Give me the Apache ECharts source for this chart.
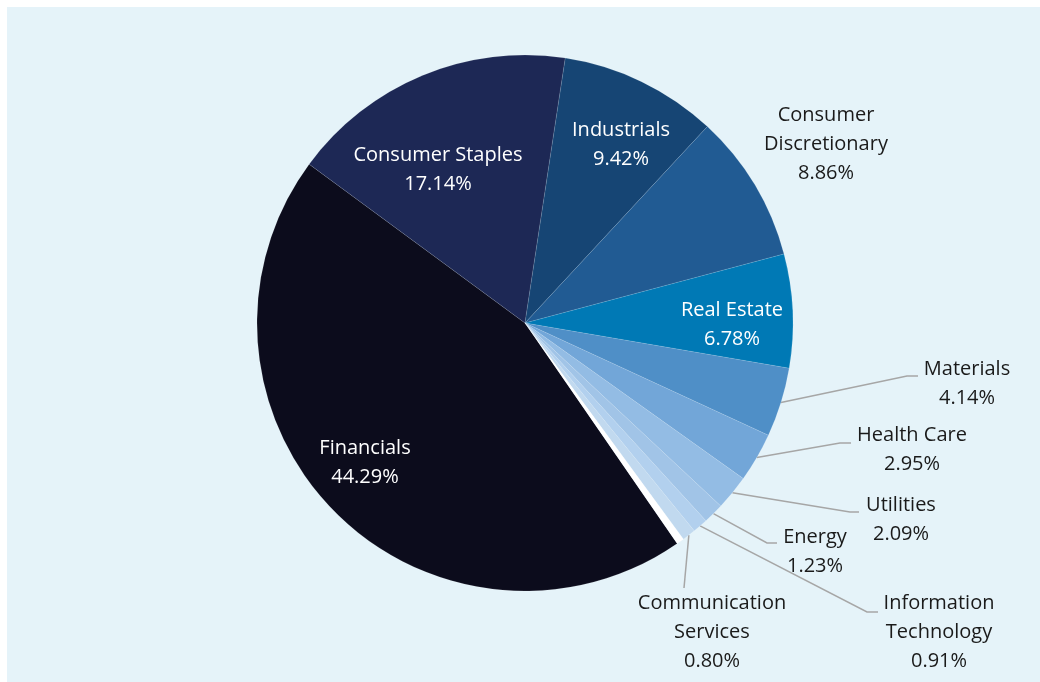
<!DOCTYPE html>
<html>
<head>
<meta charset="utf-8">
<script src="https://cdn.jsdelivr.net/npm/echarts@6/dist/echarts.min.js"></script>
<style>
html,body{margin:0;padding:0;background:#ffffff;}
#chart{width:1040px;height:682px;}
</style>
</head>
<body>
<div id="chart"></div>
<script>
// ---- data ----
const categories = ['Financials','Consumer Staples','Industrials','Consumer Discretionary','Real Estate','Materials','Health Care','Utilities','Energy','Information Technology','Communication Services','Other'];
const values = [44.29, 17.14, 9.42, 8.86, 6.78, 4.14, 2.95, 2.09, 1.23, 0.91, 0.80, 0.45];
const labelNames = ['Financials','Consumer Staples','Industrials','Consumer\nDiscretionary','Real Estate','Materials','Health Care','Utilities','Energy','Information\nTechnology','Communication\nServices',''];

// ---- styles ----
const colors = ['#0c0c1c','#1d2855','#164574','#215b93','#0079b5','#4f8fc7','#72a6d8','#93bce4','#a1c4e7','#b2d0ee','#c1d9ef','#ffffff'];
const insideLabel = [true,true,true,false,true,false,false,false,false,false,false,false];
const labelPos = [[365,463],[438,170],[621,145],[826,144],[732,325],[967,384],[912,450],[901,520],[815,552],[939,632],[712,632],null];
const lineTail = [null,null,null,null,null,
  [[907,376],[918,376]],
  [[840,443],[851,443]],
  [[850,512],[859,512]],
  [[767,543],[777,543]],
  [[867,612],[878,612]],
  [[684,588],[684,588]],
  null];

const CX = 525, CY = 323, R = 268;
const startAngle = -55.4;

const total = values.reduce((a,b)=>a+b,0);
function edgePoint(i){
  let acc = 0;
  for (let k=0;k<i;k++) acc += values[k];
  const mid = (acc + values[i]/2)/total*360; // clockwise degrees from start
  const a = (startAngle - mid) * Math.PI/180;
  return [CX + R*Math.cos(a), CY - R*Math.sin(a)];
}

const data = categories.map((c,i)=>{
  const item = {
    name: c,
    value: values[i],
    itemStyle: {color: colors[i]},
    label: {
      show: labelNames[i] !== '',
      color: insideLabel[i] ? '#ffffff' : '#1a1a1a'
    },
    labelLine: {show: !!lineTail[i]}
  };
  if (i === categories.length-1) {
    item.emphasis = {disabled:true};
  }
  return item;
});

const chart = echarts.init(document.getElementById('chart'), null, {renderer:'canvas'});
chart.setOption({
  backgroundColor: '#ffffff',
  animation: false,
  graphic: [{
    type: 'rect', z: -10, silent: true,
    shape: {x: 7, y: 7, width: 1040, height: 682},
    style: {fill: '#e5f3f9'}
  }],
  series: [{
    type: 'pie',
    center: [CX, CY],
    radius: R,
    startAngle: startAngle,
    clockwise: true,
    avoidLabelOverlap: false,
    silent: true,
    itemStyle: {borderColor: 'rgba(255,255,255,0.18)', borderWidth: 0.6},
    label: {
      position: 'outside',
      fontFamily: '"Open Sans", "Noto Sans", sans-serif',
      fontSize: 20,
      lineHeight: 29,
      align: 'center',
      formatter: p => labelNames[p.dataIndex] + '\n' + values[p.dataIndex].toFixed(2) + '%'
    },
    labelLine: {
      show: true,
      length: 10, length2: 10,
      lineStyle: {color: '#a6a6a6', width: 1.5}
    },
    labelLayout: function(params){
      const i = params.dataIndex;
      const pos = labelPos[i];
      if (!pos) return {};
      const res = {x: pos[0], y: pos[1], align: 'center', verticalAlign: 'middle'};
      if (lineTail[i]) {
        res.labelLinePoints = [edgePoint(i), lineTail[i][0], lineTail[i][1]];
      }
      return res;
    },
    data: data
  }]
});
</script>
</body>
</html>
